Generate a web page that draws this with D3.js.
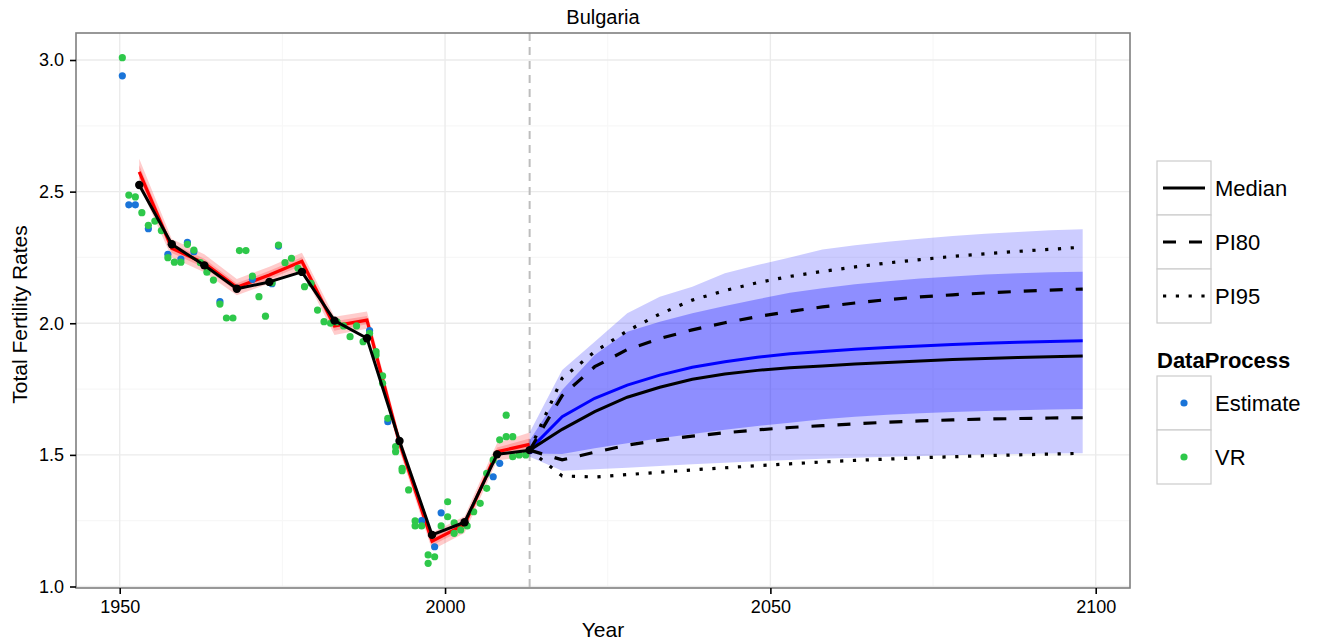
<!DOCTYPE html>
<html>
<head>
<meta charset="utf-8">
<script src="https://cdn.jsdelivr.net/npm/d3@7"></script>
<style>
  html, body { margin: 0; padding: 0; background: #fff; }
  svg { display: block; font-family: "Liberation Sans", Arial, Helvetica, sans-serif; }
</style>
</head>
<body>
<svg id="chart" width="1318" height="644"></svg>
<script>
// ---- Estimation periods (past) ----
const periodYears = [1953, 1958, 1963, 1968, 1973, 1978, 1983, 1988, 1993, 1998, 2003, 2008, 2013];
const pastMedian  = [2.525, 2.300, 2.220, 2.131, 2.157, 2.195, 2.010, 1.943, 1.553, 1.196, 1.244, 1.502, 1.518];
const redMedian   = [2.575, 2.285, 2.228, 2.137, 2.183, 2.235, 1.990, 2.012, 1.545, 1.172, 1.235, 1.512, 1.540];
const red80Lo     = [2.550, 2.267, 2.211, 2.122, 2.167, 2.219, 1.972, 1.996, 1.530, 1.156, 1.219, 1.496, 1.518];
const red80Hi     = [2.600, 2.303, 2.245, 2.152, 2.199, 2.251, 2.008, 2.028, 1.560, 1.188, 1.251, 1.528, 1.562];
const red95Lo     = [2.525, 2.250, 2.194, 2.106, 2.151, 2.202, 1.955, 1.979, 1.515, 1.139, 1.203, 1.479, 1.495];
const red95Hi     = [2.625, 2.320, 2.262, 2.168, 2.215, 2.268, 2.025, 2.045, 1.575, 1.205, 1.267, 1.545, 1.585];

// ---- Projection periods ----
const projYears  = [2013, 2018, 2023, 2028, 2033, 2038, 2043, 2048, 2053, 2058, 2063, 2068, 2073, 2078, 2083, 2088, 2093, 2098];
const projMedian = [1.518, 1.597, 1.664, 1.719, 1.757, 1.787, 1.807, 1.821, 1.831, 1.838, 1.845, 1.851, 1.857, 1.862, 1.866, 1.870, 1.873, 1.876];
const projMean   = [1.520, 1.645, 1.715, 1.765, 1.803, 1.833, 1.854, 1.871, 1.884, 1.893, 1.901, 1.908, 1.914, 1.919, 1.924, 1.928, 1.931, 1.934];
const pi80Lo     = [1.518, 1.481, 1.510, 1.537, 1.556, 1.571, 1.584, 1.595, 1.604, 1.611, 1.618, 1.624, 1.629, 1.633, 1.636, 1.638, 1.640, 1.641];
const pi80Hi     = [1.518, 1.725, 1.835, 1.900, 1.942, 1.975, 2.002, 2.025, 2.045, 2.062, 2.077, 2.090, 2.100, 2.108, 2.115, 2.121, 2.126, 2.130];
const pi95Lo     = [1.518, 1.420, 1.416, 1.425, 1.434, 1.443, 1.451, 1.459, 1.466, 1.473, 1.479, 1.484, 1.489, 1.493, 1.497, 1.500, 1.503, 1.506];
const pi95Hi     = [1.518, 1.791, 1.892, 1.971, 2.035, 2.088, 2.124, 2.154, 2.178, 2.197, 2.214, 2.229, 2.242, 2.254, 2.264, 2.273, 2.281, 2.289];
const band80Lo   = [1.505, 1.503, 1.525, 1.544, 1.563, 1.579, 1.595, 1.610, 1.622, 1.635, 1.645, 1.652, 1.658, 1.663, 1.667, 1.670, 1.672, 1.674];
const band80Hi   = [1.555, 1.746, 1.879, 1.968, 2.006, 2.038, 2.066, 2.091, 2.116, 2.133, 2.148, 2.160, 2.170, 2.178, 2.185, 2.190, 2.194, 2.196];
const band95Lo   = [1.493, 1.440, 1.445, 1.451, 1.458, 1.464, 1.470, 1.476, 1.481, 1.485, 1.489, 1.493, 1.496, 1.499, 1.501, 1.503, 1.505, 1.506];
const band95Hi   = [1.585, 1.822, 1.930, 2.038, 2.101, 2.139, 2.190, 2.221, 2.250, 2.280, 2.296, 2.310, 2.321, 2.331, 2.340, 2.347, 2.353, 2.357];

// ---- Observed data ----
const estYear = [1950.4, 1951.4, 1952.4, 1954.4, 1957.4, 1959.4, 1960.4, 1961.4, 1965.4, 1970.4, 1973.4, 1974.4, 1988.4, 1991.2, 1996.4, 1998.4, 1999.4, 2007.4, 2008.4];
const estTFR  = [2.940, 2.450, 2.450, 2.359, 2.262, 2.244, 2.307, 2.272, 2.082, 2.167, 2.150, 2.293, 1.972, 1.626, 1.250, 1.151, 1.280, 1.417, 1.468];
const vrYear = [1950.4, 1951.4, 1952.4, 1953.4, 1954.4, 1955.4, 1956.4, 1957.4, 1958.4, 1959.4,
                1960.4, 1961.4, 1962.4, 1963.4, 1964.4, 1965.4, 1966.4, 1967.4, 1968.4, 1969.4,
                1970.4, 1971.4, 1972.4, 1973.4, 1974.4, 1975.4, 1976.4, 1977.4, 1978.4, 1979.4,
                1980.4, 1981.4, 1982.4, 1983.4, 1984.4, 1985.4, 1986.4, 1987.4, 1988.4, 1989.4,
                1989.4, 1990.4, 1990.4, 1991.2, 1992.4, 1992.4, 1993.4, 1993.4, 1994.4, 1995.4,
                1995.4, 1996.4, 1997.4, 1997.4, 1998.4, 1999.4, 2000.4, 2000.4, 2001.4, 2001.4,
                2002.4, 2003.4, 2004.4, 2005.4, 2006.4, 2006.4, 2007.4, 2008.4, 2009.4, 2009.4,
                2010.4, 2010.4, 2011.4, 2012.4];
const vrTFR  = [3.009, 2.487, 2.480, 2.420, 2.372, 2.388, 2.352, 2.249, 2.232, 2.232,
                2.300, 2.278, 2.230, 2.194, 2.164, 2.073, 2.020, 2.020, 2.276, 2.276,
                2.179, 2.101, 2.027, 2.154, 2.297, 2.230, 2.247, 2.209, 2.139, 2.152,
                2.050, 2.006, 2.000, 2.005, 1.990, 1.949, 1.990, 1.930, 1.962, 1.892,
                1.879, 1.800, 1.772, 1.639, 1.531, 1.512, 1.449, 1.440, 1.367, 1.249,
                1.230, 1.230, 1.120, 1.088, 1.113, 1.230, 1.322, 1.265, 1.242, 1.202,
                1.215, 1.230, 1.284, 1.316, 1.373, 1.430, 1.481, 1.557, 1.569, 1.651,
                1.569, 1.493, 1.500, 1.500];

// ---- Axis settings ----
const xTicks = [1950, 2000, 2050, 2100];
const xMinor = [1975, 2025, 2075];
const yTicks = [1.0, 1.5, 2.0, 2.5, 3.0];
const yMinor = [1.25, 1.75, 2.25, 2.75];
const presentYear = 2013;
const chartTitle = "Bulgaria";
const xTitle = "Year";
const yTitle = "Total Fertility Rates";
const lineLegend = ["Median", "PI80", "PI95"];
const pointLegend = ["Estimate", "VR"];
const legendTitle = "DataProcess";

// ---- Layout ----
const panel = { left: 76, top: 33, right: 1130, bottom: 588 };
const colEst = "#1a74d8";
const colVR = "#2ec84a";

const svg = d3.select("#chart");
const x = d3.scaleLinear().domain([1943.28, 2105.27]).range([panel.left, panel.right]);
const y = d3.scaleLinear().domain([0.9943, 3.1026]).range([panel.bottom, panel.top]);

const clipId = "panelClip";
svg.append("defs").append("clipPath").attr("id", clipId)
  .append("rect").attr("x", panel.left).attr("y", panel.top)
  .attr("width", panel.right - panel.left).attr("height", panel.bottom - panel.top);

// grid
const grid = svg.append("g");
grid.selectAll(".vminor").data(xMinor).enter().append("line")
  .attr("x1", d => x(d)).attr("x2", d => x(d)).attr("y1", panel.top).attr("y2", panel.bottom)
  .attr("stroke", "#f7f7f7").attr("stroke-width", 1.2);
grid.selectAll(".hminor").data(yMinor).enter().append("line")
  .attr("y1", d => y(d)).attr("y2", d => y(d)).attr("x1", panel.left).attr("x2", panel.right)
  .attr("stroke", "#f7f7f7").attr("stroke-width", 1.2);
grid.selectAll(".vmajor").data(xTicks).enter().append("line")
  .attr("x1", d => x(d)).attr("x2", d => x(d)).attr("y1", panel.top).attr("y2", panel.bottom)
  .attr("stroke", "#ebebeb").attr("stroke-width", 1.4);
grid.selectAll(".hmajor").data(yTicks).enter().append("line")
  .attr("y1", d => y(d)).attr("y2", d => y(d)).attr("x1", panel.left).attr("x2", panel.right)
  .attr("stroke", "#ebebeb").attr("stroke-width", 1.4);

const plot = svg.append("g").attr("clip-path", `url(#${clipId})`);

// present-year marker
plot.append("line")
  .attr("x1", x(presentYear)).attr("x2", x(presentYear))
  .attr("y1", panel.top).attr("y2", panel.bottom)
  .attr("stroke", "#bdbdbd").attr("stroke-width", 2).attr("stroke-dasharray", "8,6");

const areaOf = (xs, lo, hi) => d3.area()
  .x((d, i) => x(xs[i])).y0((d, i) => y(lo[i])).y1((d, i) => y(hi[i]))(xs);
const lineOf = (xs, vs) => d3.line().x((d, i) => x(xs[i])).y((d, i) => y(vs[i]))(xs);

// past estimation bands
plot.append("path").attr("d", areaOf(periodYears, red95Lo, red95Hi))
  .attr("fill", "#ff0000").attr("fill-opacity", 0.2);
plot.append("path").attr("d", areaOf(periodYears, red80Lo, red80Hi))
  .attr("fill", "#ff0000").attr("fill-opacity", 0.2);
plot.append("path").attr("d", lineOf(periodYears, redMedian))
  .attr("fill", "none").attr("stroke", "#ff0000").attr("stroke-width", 3.2);

// observations
plot.selectAll(".est").data(estYear).enter().append("circle")
  .attr("cx", d => x(d)).attr("cy", (d, i) => y(estTFR[i])).attr("r", 3.6).attr("fill", colEst);
plot.selectAll(".vr").data(vrYear).enter().append("circle")
  .attr("cx", d => x(d)).attr("cy", (d, i) => y(vrTFR[i])).attr("r", 3.6).attr("fill", colVR);

// past median
plot.append("path").attr("d", lineOf(periodYears, pastMedian))
  .attr("fill", "none").attr("stroke", "#000").attr("stroke-width", 3).attr("stroke-linejoin", "round");
plot.selectAll(".pm").data(periodYears).enter().append("circle")
  .attr("cx", d => x(d)).attr("cy", (d, i) => y(pastMedian[i])).attr("r", 4.2).attr("fill", "#000");

// projection bands
plot.append("path").attr("d", areaOf(projYears, band95Lo, band95Hi))
  .attr("fill", "#0000ff").attr("fill-opacity", 0.2);
plot.append("path").attr("d", areaOf(projYears, band80Lo, band80Hi))
  .attr("fill", "#0000ff").attr("fill-opacity", 0.3);
plot.append("path").attr("d", lineOf(projYears, projMean))
  .attr("fill", "none").attr("stroke", "#0000ff").attr("stroke-width", 3);

// projection median and intervals
plot.append("path").attr("d", lineOf(projYears, projMedian))
  .attr("fill", "none").attr("stroke", "#000").attr("stroke-width", 3);
[[pi80Lo, "dash"], [pi80Hi, "dash"], [pi95Lo, "dot"], [pi95Hi, "dot"]].forEach(([vals, kind]) => {
  plot.append("path").attr("d", lineOf(projYears, vals))
    .attr("fill", "none").attr("stroke", "#000").attr("stroke-width", 3.2)
    .attr("stroke-dasharray", kind === "dash" ? "13,13" : "3.2,9.6");
});

// panel border
svg.append("rect").attr("x", panel.left).attr("y", panel.top)
  .attr("width", panel.right - panel.left).attr("height", panel.bottom - panel.top)
  .attr("fill", "none").attr("stroke", "#7f7f7f").attr("stroke-width", 1.6);

// axes
const xAxis = svg.append("g").attr("transform", `translate(0,${panel.bottom})`)
  .call(d3.axisBottom(x).tickValues(xTicks).tickFormat(d3.format("d")).tickSize(6).tickPadding(6));
const yAxis = svg.append("g").attr("transform", `translate(${panel.left},0)`)
  .call(d3.axisLeft(y).tickValues(yTicks).tickFormat(d3.format(".1f")).tickSize(6).tickPadding(6));
[xAxis, yAxis].forEach(a => {
  a.select(".domain").remove();
  a.selectAll(".tick line").attr("stroke", "#000").attr("stroke-width", 1.6);
  a.selectAll(".tick text").attr("fill", "#000").style("font-size", "18px")
    .style("font-family", "'Liberation Sans', Arial, sans-serif");
});

// titles
svg.append("text").attr("x", (panel.left + panel.right) / 2).attr("y", 24)
  .attr("text-anchor", "middle").style("font-size", "20px").text(chartTitle);
svg.append("text").attr("x", (panel.left + panel.right) / 2).attr("y", 637)
  .attr("text-anchor", "middle").style("font-size", "21px").text(xTitle);
svg.append("text").attr("transform", `translate(27,${(panel.top + panel.bottom) / 2 + 4}) rotate(-90)`)
  .attr("text-anchor", "middle").style("font-size", "21px").text(yTitle);

// legends
const keyX = 1157, keyW = 54, keyH = 54;
const leg = svg.append("g");
const dashFor = ["none", "13,13", "3.2,9.6"];
lineLegend.forEach((label, i) => {
  const top = 161 + i * keyH;
  leg.append("rect").attr("x", keyX).attr("y", top).attr("width", keyW).attr("height", keyH)
    .attr("fill", "#fff").attr("stroke", "#cccccc").attr("stroke-width", 1.2);
  leg.append("line").attr("x1", keyX + 6).attr("x2", keyX + keyW - 6)
    .attr("y1", top + keyH / 2).attr("y2", top + keyH / 2)
    .attr("stroke", "#000").attr("stroke-width", 3.2).attr("stroke-dasharray", dashFor[i]);
  leg.append("text").attr("x", keyX + keyW + 4).attr("y", top + keyH / 2 + 8)
    .style("font-size", "22px").text(label);
});
leg.append("text").attr("x", keyX).attr("y", 368).style("font-size", "22px")
  .style("font-weight", "bold").text(legendTitle);
pointLegend.forEach((label, i) => {
  const top = 376 + i * keyH;
  leg.append("rect").attr("x", keyX).attr("y", top).attr("width", keyW).attr("height", keyH)
    .attr("fill", "#fff").attr("stroke", "#cccccc").attr("stroke-width", 1.2);
  leg.append("circle").attr("cx", keyX + keyW / 2).attr("cy", top + keyH / 2).attr("r", 3.6)
    .attr("fill", i === 0 ? colEst : colVR);
  leg.append("text").attr("x", keyX + keyW + 4).attr("y", top + keyH / 2 + 8)
    .style("font-size", "22px").text(label);
});
</script>
</body>
</html>
